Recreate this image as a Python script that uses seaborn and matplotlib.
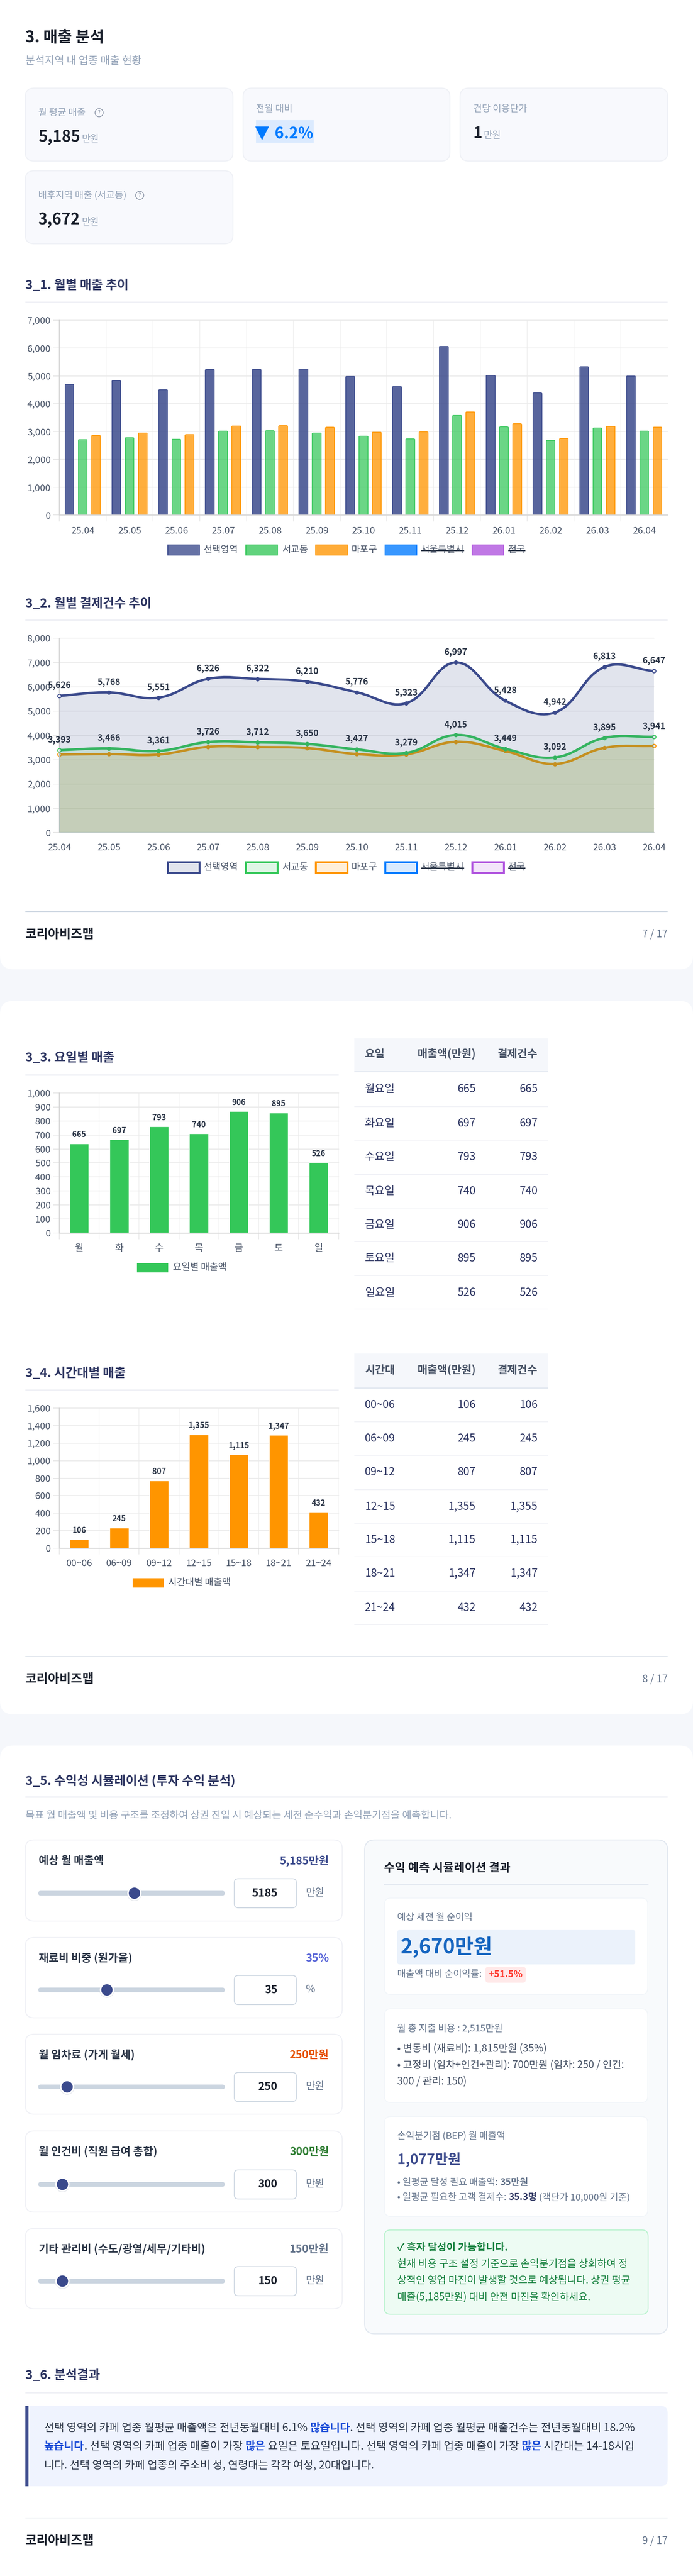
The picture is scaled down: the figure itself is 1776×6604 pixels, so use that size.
import numpy as np
import pandas as pd
import matplotlib
matplotlib.use("Agg")
import matplotlib.pyplot as plt
import seaborn as sns
from matplotlib.patches import FancyBboxPatch, Rectangle, Circle, PathPatch
from matplotlib.path import Path
from matplotlib.ticker import FixedLocator, FuncFormatter
from matplotlib.transforms import IdentityTransform
from matplotlib.colors import to_rgba

# ---------- data ----------
months = ["25.04", "25.05", "25.06", "25.07", "25.08", "25.09", "25.10", "25.11", "25.12", "26.01", "26.02", "26.03", "26.04"]
series_names = ["선택영역", "서교동", "마포구"]
legend_names = ["선택영역", "서교동", "마포구", "서울특별시", "전국"]
legend_hidden = [False, False, False, True, True]
sales_selected = [4708, 4827, 4502, 5234, 5234, 5253, 4984, 4621, 6067, 5021, 4389, 5328, 4996]
sales_seogyo = [2711, 2780, 2724, 3018, 3030, 2949, 2836, 2736, 3581, 3168, 2686, 3130, 3018]
sales_mapo = [2861, 2955, 2893, 3206, 3212, 3156, 2980, 2987, 3706, 3281, 2749, 3187, 3156]
count_selected = [5626, 5768, 5551, 6326, 6322, 6210, 5776, 5323, 6997, 5428, 4942, 6813, 6647]
count_seogyo = [3393, 3466, 3361, 3726, 3712, 3650, 3427, 3279, 4015, 3449, 3092, 3895, 3941]
count_mapo = [3212, 3233, 3212, 3529, 3519, 3478, 3233, 3222, 3734, 3355, 2823, 3488, 3570]

days_short = ["월", "화", "수", "목", "금", "토", "일"]
days_long = ["월요일", "화요일", "수요일", "목요일", "금요일", "토요일", "일요일"]
day_bar_values = [638, 668, 760, 709, 869, 858, 504]
day_labels = [665, 697, 793, 740, 906, 895, 526]
hours = ["00~06", "06~09", "09~12", "12~15", "15~18", "18~21", "21~24"]
hour_bar_values = [102, 233, 772, 1298, 1068, 1291, 414]
hour_labels = [106, 245, 807, 1355, 1115, 1347, 432]

slider_labels = ["예상 월 매출액", "재료비 비중 (원가율)", "월 임차료 (가게 월세)", "월 인건비 (직원 급여 총합)", "기타 관리비 (수도/광열/세무/기타비)"]
slider_shown = ["5,185만원", "35%", "250만원", "300만원", "150만원"]
slider_inputs = ["5185", "35", "250", "300", "150"]
slider_units = ["만원", "%", "만원", "만원", "만원"]

# ---------- palette ----------
NAVY, GREEN, ORANGE, BLUE, PURPLE = "#3b4a8c", "#34c759", "#ff9500", "#007aff", "#af52de"
PAGE, INK, TITLE, GRAY, TICK = "#f5f7fb", "#1a202c", "#2d3561", "#94a3b8", "#4a5568"
series_colors = dict(zip(series_names, [NAVY, GREEN, ORANGE]))
legend_colors = [NAVY, GREEN, ORANGE, BLUE, PURPLE]
slider_colors = [NAVY, "#5a67d8", "#e65100", "#2e7d32", "#64748b"]

sns.set_theme(style="white", rc={"axes.facecolor": "none", "figure.facecolor": PAGE})
plt.rcParams["font.family"] = ["Noto Sans CJK KR", "DejaVu Sans"]
plt.rcParams["axes.unicode_minus"] = False

W, H = 1776, 6604
fig = plt.figure(figsize=(W / 100, H / 100), dpi=100, facecolor=PAGE)
ax0 = fig.add_axes([0, 0, 1, 1])
ax0.set_xlim(0, W)
ax0.set_ylim(H, 0)
ax0.axis("off")
PX = 0.72


def T(x, y, s, px, color=INK, weight="normal", ha="left", va="center", **kw):
    return ax0.text(x, y, s, fontsize=px * PX, color=color, fontweight=weight, ha=ha, va=va, **kw)


def R(x0, y0, x1, y1, r=0, fc="white", ec="none", lw=0, z=1, alpha=None):
    if r:
        p = FancyBboxPatch((x0, y0), x1 - x0, y1 - y0, boxstyle=f"round,pad=0,rounding_size={r}",
                           fc=fc, ec=ec, lw=lw * PX, zorder=z, alpha=alpha)
    else:
        p = Rectangle((x0, y0), x1 - x0, y1 - y0, fc=fc, ec=ec, lw=lw * PX, zorder=z, alpha=alpha)
    ax0.add_patch(p)
    return p


def runs(x, y, parts, px, z=5):
    """Write coloured/bold runs one after another on one baseline."""
    r = fig.canvas.get_renderer()
    for s, color, weight in parts:
        T(x, y, s, px, color, weight, va="baseline", zorder=z)
        probe = T(0, 0, s + "|", px, color, weight)
        bar = T(0, 0, "|", px, color, weight)
        x += probe.get_window_extent(r).width - bar.get_window_extent(r).width
        probe.remove()
        bar.remove()
    return x


def section(y_text, y_hr, s, x1=1711):
    T(65, y_text, s, 32, TITLE, "bold", zorder=5)
    R(65, y_hr - 2, x1, y_hr + 2, fc="#f0f1f6", z=2)


def footer(y_hr, y_text, page):
    R(65, y_hr - 1.2, 1711, y_hr + 1.2, fc="#cbd5e0", z=2)
    T(65, y_text, "코리아비즈맵", 32, INK, "bold", zorder=5)
    T(1711, y_text, page, 26, "#64748b", ha="right", zorder=5)


def chart_axes(x0, y_top, x1, y_bot):
    return fig.add_axes([x0 / W, 1 - y_bot / H, (x1 - x0) / W, (y_bot - y_top) / H], zorder=3)


def style_axes(ax, ymax, ystep, xedges, tick_px=17, x_pad=13, label_px=24):
    ax.set_ylim(0, ymax)
    ax.yaxis.set_major_locator(FixedLocator(np.arange(0, ymax + 1, ystep)))
    ax.yaxis.set_major_formatter(FuncFormatter(lambda v, _: f"{v:,.0f}"))
    ax.set_xlabel("")
    ax.set_ylabel("")
    ax.set_axisbelow(True)
    ax.grid(True, axis="y", which="major", color="#ebebeb", lw=2.4 * PX)
    ax.tick_params(axis="y", which="major", length=16 * PX, width=2 * PX, color="#e6e6e6",
                   labelsize=label_px * PX, labelcolor=TICK, pad=6 * PX, left=True)
    for l in ax.get_ygridlines():
        l.set_clip_on(False)
    for side in ("top", "right"):
        ax.spines[side].set_visible(False)
    ax.spines["left"].set_color("#d4d4d4")
    ax.spines["left"].set_linewidth(2 * PX)
    ax.spines["bottom"].set_color("#d9d9d9")
    ax.spines["bottom"].set_linewidth(2.6 * PX)
    if xedges is not None:
        ax.xaxis.set_minor_locator(FixedLocator(xedges))
        ax.grid(True, axis="x", which="minor", color="#eeeeee", lw=1.6 * PX)
        ax.grid(False, axis="x", which="major")
        ax.tick_params(axis="x", which="minor", length=tick_px * PX, width=1.6 * PX, color="#e6e6e6", bottom=True)
        ax.tick_params(axis="x", which="major", length=0, labelsize=label_px * PX, labelcolor=TICK,
                       pad=(tick_px + x_pad) * PX)


def legend_row(y0, y1, thick):
    boxes = [(430, 511, 522), (630, 711, 724), (809, 890, 901), (987, 1068, 1079), (1210, 1291, 1302)]
    widths = [88, 66, 66, 110, 44]
    for (x0, x1, xt), name, c, hid, w in zip(boxes, legend_names, legend_colors, legend_hidden, widths):
        fill = to_rgba(c, 0.15 if thick else 0.78)
        ax0.add_patch(Rectangle((x0, y0), x1 - x0, y1 - y0, fc=fill, ec=c, lw=(5 if thick else 2.4) * PX, zorder=4))
        T(xt, (y0 + y1) / 2, name, 24, TICK, zorder=5)
        if hid:
            ax0.plot([xt, xt + w], [(y0 + y1) / 2 + 1] * 2, color="#2d3748", lw=3 * PX, zorder=6, solid_capstyle="butt")


def info_icon(x, y):
    ax0.add_patch(Circle((x, y), 10.5, fc="none", ec="#8a94a6", lw=1.8 * PX, zorder=5))
    T(x, y, "?", 14, "#8a94a6", ha="center", zorder=6)


def table(head_top, head_bot, y_head, heads, col0, v1, v2, y_rows, y_lines):
    R(908, head_top, 1405, head_bot, fc="#f5f7fb", z=2)
    R(908, head_bot, 1405, head_bot + 3.5, fc="#e2e8f0", z=2)
    T(935, y_head, heads[0], 28, TICK, "bold", zorder=5)
    T(1219, y_head, heads[1], 28, TICK, "bold", ha="right", zorder=5)
    T(1378, y_head, heads[2], 28, TICK, "bold", ha="right", zorder=5)
    for a, b, c, y, yl in zip(col0, v1, v2, y_rows, y_lines):
        T(935, y, a, 28, TITLE, zorder=5)
        T(1219, y, f"{b:,}", 28, TITLE, ha="right", zorder=5)
        T(1378, y, f"{c:,}", 28, TITLE, ha="right", zorder=5)
        R(908, yl - 1.2, 1405, yl + 1.2, fc="#f0f1f6", z=2)


# ---------- page cards ----------
R(0, -60, W, 2485, r=34)
R(0, 2566, W, 4395, r=34)
R(0, 4475, W, 6700, r=34)

# ---------- header and KPI ----------
T(65, 97, "3. 매출 분석", 40, INK, "bold", zorder=5)
T(65, 156, "분석지역 내 업종 매출 현황", 27, GRAY, zorder=5)
for x0, x1, y0, y1 in [(65, 597, 226, 413), (623, 1153, 226, 413), (1179, 1711, 226, 413), (65, 597, 438, 625)]:
    R(x0, y0, x1, y1, r=22, fc="#f8f9fd", ec="#eff1f6", lw=2.5, z=2)
T(98, 289, "월 평균 매출", 24, GRAY, zorder=5)
info_icon(254, 289)
T(98, 363, "5,185", 40, INK, "bold", va="baseline", zorder=5)
T(210, 363, "만원", 24, GRAY, va="baseline", zorder=5)
T(656, 279, "전월 대비", 24, GRAY, zorder=5)
R(656, 308, 804, 366, fc="#dbeafe", z=3)
T(654, 354, "▼", 46, BLUE, "bold", va="baseline", zorder=5, family=["DejaVu Sans"])
T(704, 355, "6.2%", 40, BLUE, "bold", va="baseline", zorder=5)
T(1213, 279, "건당 이용단가", 24, GRAY, zorder=5)
T(1213, 354, "1", 40, INK, "bold", va="baseline", zorder=5)
T(1240, 354, "만원", 24, GRAY, va="baseline", zorder=5)
T(98, 500, "배후지역 매출 (서교동)", 24, GRAY, zorder=5)
info_icon(358, 501)
T(98, 575.5, "3,672", 40, INK, "bold", va="baseline", zorder=5)
T(210, 575.5, "만원", 24, GRAY, va="baseline", zorder=5)

# ---------- 3_1 bars ----------
section(732, 775, "3_1. 월별 매출 추이")
ax1 = chart_axes(152, 821, 1711, 1320.5)
bars_df = pd.DataFrame({
    "month": months * 3,
    "series": np.repeat(series_names, 13),
    "value": sales_selected + sales_seogyo + sales_mapo,
})
sns.barplot(data=bars_df, x="month", y="value", hue="series", hue_order=series_names, palette=series_colors,
            order=months, width=0.85, gap=0.335, legend=False, ax=ax1, saturation=1)
ax1.set_xlim(-0.5, 12.5)
style_axes(ax1, 7000, 1000, np.arange(-0.5, 12.0, 1))
alphas = {NAVY: 0.85, GREEN: 0.73, ORANGE: 0.76}
for cont, c in zip(ax1.containers, [NAVY, GREEN, ORANGE]):
    for bar in cont:
        bar.set_facecolor(to_rgba(c, alphas[c]))
        bar.set_edgecolor(c)
        bar.set_linewidth(1.8 * PX)
        (x0, y0), (x1, y1) = ax1.transData.transform(bar.get_bbox().get_points())
        clip = FancyBboxPatch((x0 - 2, y0 - 30), x1 - x0 + 4, y1 - y0 + 31.5, boxstyle="round,pad=0,rounding_size=6",
                              transform=IdentityTransform())
        bar.set_clip_path(clip)
legend_row(1397, 1423, False)

# ---------- 3_2 lines ----------
section(1548, 1590, "3_2. 월별 결제건수 추이")
ax2 = chart_axes(152, 1636, 1676, 2134.5)
ax2.set_xlim(0, 12)
ax2.set_ylim(0, 8000)
xi = np.arange(13)


def bezier(ax, ys, tension=0.4):
    pts = ax.transData.transform(np.c_[xi, ys])
    n = len(pts)
    before, after = np.zeros_like(pts), np.zeros_like(pts)
    for i in range(n):
        p, c, q = pts[max(i - 1, 0)], pts[i], pts[min(i + 1, n - 1)]
        a, b = np.hypot(*(c - p)), np.hypot(*(q - c))
        before[i] = c - tension * a / (a + b) * (q - p)
        after[i] = c + tension * b / (a + b) * (q - p)
    verts, codes = [pts[0]], [Path.MOVETO]
    for i in range(n - 1):
        verts += [after[i], before[i + 1], pts[i + 1]]
        codes += [Path.CURVE4] * 3
    return ax.transData.inverted().transform(np.array(verts)), codes


line_sets = [("마포구", count_mapo, ORANGE, 2, 0.16), ("서교동", count_seogyo, GREEN, 3, 0.16), ("선택영역", count_selected, NAVY, 4, 0.15)]
for name, vals, c, z, fa in line_sets:
    v, cd = bezier(ax2, vals)
    fv = np.vstack([v, [[12, 0], [0, 0]], v[:1]])
    fc_codes = cd + [Path.LINETO, Path.LINETO, Path.CLOSEPOLY]
    ax2.add_patch(PathPatch(Path(fv, fc_codes), fc=to_rgba(c, fa), ec="none", zorder=z))
    ax2.add_patch(PathPatch(Path(v, cd), fc="none", ec=c, lw=6.2 * PX, capstyle="round", joinstyle="round", zorder=z + 0.1))
    sns.lineplot(x=xi, y=vals, color=c, marker="o", markersize=10 * PX, markeredgecolor=c, linewidth=0,
                 errorbar=None, legend=False, ax=ax2, zorder=z + 0.2, clip_on=False)
    sns.scatterplot(x=xi[[0, -1]], y=np.array(vals)[[0, -1]], s=(9 * PX) ** 2, facecolor="#eef0f6", edgecolor=c,
                    linewidth=2.2 * PX, legend=False, ax=ax2, zorder=z + 0.3, clip_on=False)
    if name != "마포구":
        for i, val in zip(xi, vals):
            ax2.annotate(f"{val:,}", (i, val), xytext=(0, 27 * PX), textcoords="offset points", ha="center", va="center",
                         fontsize=22 * PX, color="#2d3748", fontweight="bold", zorder=8, annotation_clip=False)
ax2.set_xlim(0, 12)
ax2.set_xticks(xi, months)
style_axes(ax2, 8000, 1000, xi, tick_px=16, x_pad=11)
legend_row(2210, 2238, True)
footer(2337, 2395.5, "7 / 17")

# ---------- 3_3 weekdays ----------
section(2712, 2756, "3_3. 요일별 매출", x1=868)
ax3 = chart_axes(152, 2802, 867.5, 3161)
sns.barplot(x=days_short, y=day_bar_values, color=GREEN, saturation=1, width=0.475, ax=ax3)
ax3.set_xlim(-0.5, 6.5)
style_axes(ax3, 1000, 100, np.arange(-0.5, 7, 1), tick_px=16, x_pad=12)
for i, (v, lab) in enumerate(zip(day_bar_values, day_labels)):
    ax3.annotate(f"{lab:,}", (i, v), xytext=(0, 23 * PX), textcoords="offset points", ha="center", va="center",
                 fontsize=20 * PX, color="#2d3748", fontweight="bold", annotation_clip=False)
R(351, 3238, 431, 3262, fc=GREEN, z=4)
T(443, 3250, "요일별 매출액", 24, TICK, zorder=5)
table(2662, 2746, 2703, ["요일", "매출액(만원)", "결제건수"], days_long, day_labels, day_labels,
      [2792, 2880, 2966, 3054, 3140, 3226, 3314], [2837, 2923, 3011, 3097, 3183, 3270, 3356])

# ---------- 3_4 hours ----------
section(3521, 3564, "3_4. 시간대별 매출", x1=868)
ax4 = chart_axes(152, 3610, 867.5, 3969)
sns.barplot(x=hours, y=hour_bar_values, color=ORANGE, saturation=1, width=0.475, ax=ax4)
ax4.set_xlim(-0.5, 6.5)
style_axes(ax4, 1600, 200, np.arange(-0.5, 7, 1), tick_px=16, x_pad=12)
for i, (v, lab) in enumerate(zip(hour_bar_values, hour_labels)):
    ax4.annotate(f"{lab:,}", (i, v), xytext=(0, 23 * PX), textcoords="offset points", ha="center", va="center",
                 fontsize=20 * PX, color="#2d3748", fontweight="bold", annotation_clip=False)
R(340, 4046, 420, 4070, fc=ORANGE, z=4)
T(431, 4058, "시간대별 매출액", 24, TICK, zorder=5)
table(3470, 3557, 3513, ["시간대", "매출액(만원)", "결제건수"], hours, hour_labels, hour_labels,
      [3602, 3688, 3774, 3863, 3948, 4034, 4122], [3645, 3731, 3819, 3905, 3991, 4079, 4165])
footer(4247, 4305, "8 / 17")

# ---------- 3_5 simulation ----------
section(4566, 4607, "3_5. 수익성 시뮬레이션 (투자 수익 분석)")
T(65, 4654, "목표 월 매출액 및 비용 구조를 조정하여 상권 진입 시 예상되는 세전 순수익과 손익분기점을 예측합니다.", 26, GRAY, zorder=5)
card_tops = [4717, 4967, 5215, 5463, 5713]
card_bots = [4925, 5173, 5420, 5671, 5919]
track_ys = [4853.5, 5101.5, 5350, 5600, 5848]
thumb_xs = [344.5, 274, 172, 160, 160]
for i in range(5):
    R(65, card_tops[i], 877, card_bots[i], r=22, fc="white", ec="#f0f1f6", lw=2.5, z=2)
    T(98.5, card_tops[i] + 54, slider_labels[i], 28, "#2d3748", "bold", zorder=5)
    T(843, card_tops[i] + 54, slider_shown[i], 28, slider_colors[i], "bold", ha="right", zorder=5)
    R(98, track_ys[i] - 6, 576, track_ys[i] + 6, r=6, fc="#cbd5e0", z=3)
    ax0.add_patch(Circle((thumb_xs[i], track_ys[i] + 1), 19, fc="#64748b", ec="none", alpha=0.18, zorder=4))
    ax0.add_patch(Circle((thumb_xs[i], track_ys[i]), 16.5, fc=NAVY, ec="white", lw=4 * PX, zorder=4.5))
    R(600.5, track_ys[i] - 37, 759.5, track_ys[i] + 37.5, r=10, fc="white", ec="#cbd5e0", lw=2.2, z=3)
    T(711, track_ys[i], slider_inputs[i], 28, INK, "bold", ha="right", zorder=5)
    T(784, track_ys[i] - 1, slider_units[i], 26, "#64748b", zorder=5)

R(934.5, 4717, 1711, 5983, r=26, fc="#f8fafc", ec="#e2e8f0", lw=2.5, z=2)
T(984, 4789, "수익 예측 시뮬레이션 결과", 30, INK, "bold", zorder=5)
R(984, 4830, 1662, 4832, fc="#e2e8f0", z=3)

R(985.5, 4866, 1660, 5113, r=16, fc="white", ec="#f1f5f9", lw=2, z=3)
T(1018, 4916, "예상 세전 월 순이익", 24, "#64748b", zorder=5)
R(1018, 4948, 1628, 5036, r=6, fc="#ebf2fb", z=4)
T(1026, 4992, "2,670만원", 52, "#1565c0", "bold", zorder=5)
T(1018, 5062, "매출액 대비 순이익률:", 24, "#64748b", zorder=5)
R(1244, 5042, 1347.5, 5083, r=8, fc="#ffe9e9", z=4)
T(1296, 5062, "+51.5%", 24, "#ff3b30", "bold", ha="center", zorder=5)

R(985.5, 5150, 1660, 5390, r=16, fc="white", ec="#f1f5f9", lw=2, z=3)
T(1018, 5200, "월 총 지출 비용 : 2,515만원", 24, "#64748b", zorder=5)
T(1018, 5252, "• 변동비 (재료비): 1,815만원 (35%)", 26, TICK, zorder=5)
T(1018, 5294, "• 고정비 (임차+인건+관리): 700만원 (임차: 250 / 인건:", 26, TICK, zorder=5)
T(1018, 5336, "300 / 관리: 150)", 26, TICK, zorder=5)

R(985.5, 5426, 1660, 5682, r=16, fc="white", ec="#f1f5f9", lw=2, z=3)
T(1018, 5476.5, "손익분기점 (BEP) 월 매출액", 24, "#64748b", zorder=5)
T(1018, 5537, "1,077만원", 36, NAVY, "bold", zorder=5)
runs(1018, 5601.5, [("• 일평균 달성 필요 매출액: ", "#64748b", "normal"), ("35만원", "#64748b", "bold")], 24)
runs(1018, 5640, [("• 일평균 필요한 고객 결제수: ", "#64748b", "normal"), ("35.3명", TITLE, "bold"),
                  (" (객단가 10,000원 기준)", "#64748b", "normal")], 24)

R(985, 5717, 1661, 5933, r=16, fc="#edfbf3", ec="#bbf3d0", lw=2.5, z=3)
T(1018, 5762, "✓ 흑자 달성이 가능합니다.", 26, "#15803d", "bold", zorder=5)
T(1018, 5804.5, "현재 비용 구조 설정 기준으로 손익분기점을 상회하여 정", 26, "#15803d", zorder=5)
T(1018, 5847, "상적인 영업 마진이 발생할 것으로 예상됩니다. 상권 평균", 26, "#15803d", zorder=5)
T(1018, 5889, "매출(5,185만원) 대비 안전 마진을 확인하세요.", 26, "#15803d", zorder=5)

# ---------- 3_6 result ----------
section(6090.5, 6134, "3_6. 분석결과")
R(65, 6168, 1711, 6374, r=18, fc="#eff3fe", z=2)
R(65, 6168, 90, 6374, fc="#eff3fe", z=2.1)
R(65, 6168, 72.5, 6374, fc=NAVY, z=3)
TXT, HL = "#2d3748", "#1d4ed8"
runs(113, 6233, [("선택 영역의 카페 업종 월평균 매출액은 전년동월대비 6.1% ", TXT, "normal"), ("많습니다", HL, "bold"),
                 (". 선택 영역의 카페 업종 월평균 매출건수는 전년동월대비 18.2%", TXT, "normal")], 28)
runs(113, 6280, [("높습니다", HL, "bold"), (". 선택 영역의 카페 업종 매출이 가장 ", TXT, "normal"), ("많은", HL, "bold"),
                 (" 요일은 토요일입니다. 선택 영역의 카페 업종 매출이 가장 ", TXT, "normal"), ("많은", HL, "bold"),
                 (" 시간대는 14-18시입", TXT, "normal")], 28)
runs(113, 6328.5, [("니다. 선택 영역의 카페 업종의 주소비 성, 연령대는 각각 여성, 20대입니다.", TXT, "normal")], 28)
footer(6455, 6514.5, "9 / 17")

fig.savefig("out.png", dpi=100, facecolor=PAGE)
